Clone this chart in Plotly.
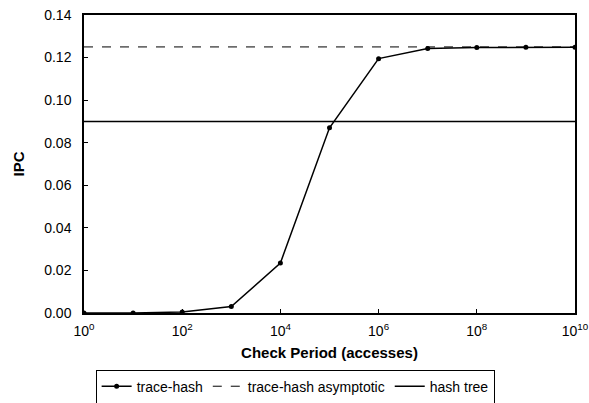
import plotly.graph_objects as go

check_period = [1, 1e1, 1e2, 1e3, 1e4, 1e5, 1e6, 1e7, 1e8, 1e9, 1e10]
trace_hash = [0.0, 0.0, 0.0005, 0.003, 0.0235, 0.087, 0.1195, 0.1243, 0.1247, 0.1248, 0.1248]
asymptotic = 0.125
hash_tree = 0.090
x_range = [1, 1e10]
tick_vals = [1, 1e2, 1e4, 1e6, 1e8, 1e10]
tick_text = ["10<sup>0</sup>", "10<sup>2</sup>", "10<sup>4</sup>", "10<sup>6</sup>", "10<sup>8</sup>", "10<sup>10</sup>"]
y_ticks = [0.0, 0.02, 0.04, 0.06, 0.08, 0.10, 0.12, 0.14]

fig = go.Figure()
fig.add_trace(go.Scatter(x=check_period, y=trace_hash, mode="lines+markers", name="trace-hash",
                         line=dict(color="black", width=1.5), marker=dict(color="black", size=5)))
fig.add_trace(go.Scatter(x=x_range, y=[asymptotic, asymptotic], mode="lines", name="trace-hash asymptotic",
                         line=dict(color="black", width=1, dash="dash")))
fig.add_trace(go.Scatter(x=x_range, y=[hash_tree, hash_tree], mode="lines", name="hash tree",
                         line=dict(color="black", width=1.5)))

fig.update_layout(
    width=589, height=403,
    margin=dict(l=84, r=14, t=15, b=90, autoexpand=False),
    plot_bgcolor="white", paper_bgcolor="white",
    font=dict(family="Liberation Sans, Arial", size=14, color="black"),
    showlegend=True,
    legend=dict(orientation="h", x=0.43, xanchor="center", y=-0.19, yanchor="top",
                bordercolor="black", borderwidth=1, font=dict(size=14),
                itemwidth=30, tracegroupgap=0),
    xaxis=dict(type="log", range=[0, 10], tickvals=tick_vals, ticktext=tick_text,
               showline=True, linecolor="black", linewidth=1.5, mirror=True, automargin=False,
               ticks="inside", ticklen=4, tickcolor="black", showgrid=False, zeroline=False,
               tickfont=dict(size=14), ticklabelstandoff=4,
               title=dict(text="<b>Check Period (accesses)</b>", standoff=10, font=dict(size=15))),
    yaxis=dict(range=[0, 0.14], tickvals=y_ticks, tickformat=".2f",
               showline=True, linecolor="black", linewidth=1.5, mirror=True, automargin=False,
               ticks="inside", ticklen=4, tickcolor="black", showgrid=False, zeroline=False,
               tickfont=dict(size=14), ticklabelstandoff=8,
               title=dict(text="<b>IPC</b>", standoff=16, font=dict(size=15))),
)

fig.write_html("out.html")
